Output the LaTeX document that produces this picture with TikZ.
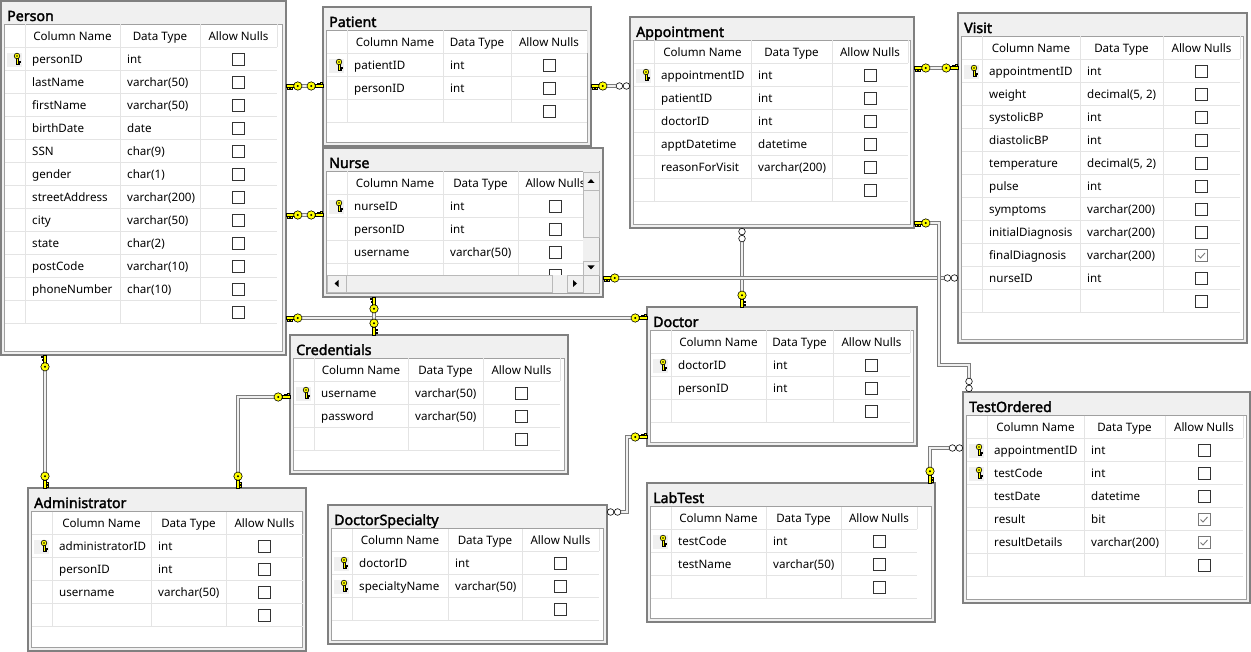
\documentclass[tikz,border=0pt]{standalone}
\usepackage{fontspec}
\setmainfont{Noto Sans}
\newfontfamily\titlefont{Noto Sans}[FakeBold=2.2]

\definecolor{keyyellow}{RGB}{255,255,0}
\definecolor{framegray}{RGB}{128,128,128}
\definecolor{titlegray}{RGB}{240,240,240}
\definecolor{gridedge}{RGB}{160,160,160}
\definecolor{gridline}{RGB}{228,228,228}
\definecolor{boxedge}{RGB}{51,51,51}
\definecolor{checkgray}{RGB}{120,120,120}
\definecolor{linkgray}{RGB}{125,125,125}

\tikzset{
  tblframe/.style={draw=framegray, fill=titlegray, line width=1.2pt, inner sep=0pt, outer sep=0pt},
  tbltitle/.style={anchor=base west, inner sep=0pt, font=\titlefont\fontsize{14.2}{16}\selectfont},
  cell/.style={inner sep=0pt, font=\fontsize{11.6}{13}\selectfont, text height=10.6pt, text depth=1pt},
  rowline/.style={draw=gridline, line width=0.8pt},
  keyfill/.style={draw=black, fill=keyyellow, line width=0.6pt},
  scrollbtn/.style={draw=gray!55, fill=titlegray, line width=0.8pt},
  link/.style={draw=linkgray, line width=1pt, double=titlegray, double distance=1.8pt},
  pics/pkicon/.style={code={
    \draw[keyfill] (-1,2) rectangle (1,8.5);
    \draw[keyfill] (1,5) rectangle (2.8,6.3);
    \draw[keyfill] (1,7.2) rectangle (2.5,8.5);
    \draw[keyfill] (0,0) circle (2.8pt);
    \fill (0,0) circle (0.8pt);
  }},
  pics/nullno/.style={code={
    \draw[boxedge, fill=white, line width=0.9pt] (-6,-6) rectangle (6,6);
  }},
  pics/nullyes/.style={code={
    \draw[checkgray, fill=white, line width=0.9pt] (-6,-6) rectangle (6,6);
    \draw[checkgray, line width=0.9pt] (-3.5,0) -- (-1,2.5) -- (3.5,-2.5);
  }},
  pics/onekey/.style={code={
    \draw[keyfill] (0,-1.5) rectangle (8,1.5);
    \draw[keyfill] (1.2,1.5) rectangle (2.8,3.6);
    \draw[keyfill] (4.2,1.5) rectangle (5.8,3);
    \draw[keyfill] (11.8,0) circle (4.2pt);
    \fill (11.8,0) circle (1.1pt);
  }},
  pics/manyend/.style={code={
    \draw[draw=black, fill=white, line width=0.6pt] (3.6,0) circle (3.3pt) (10.6,0) circle (3.3pt);
  }},
}

\def\setcols#1/#2/#3\relax{\def\colB{#1}\def\colC{#2}\def\colR{#3}}

% #1 name, #2 north west corner, #3 width, #4 height, #5 title, #6 c2/c3/right, #7 rows
\newcommand{\dbtable}[7]{%
  \node[tblframe, minimum width=#3, minimum height=#4, anchor=north west] (#1) at (#2) {};
  \setcols#6\relax
  \begin{scope}[shift={(#1.north west)}]
    \node[tbltitle] at (6,20) {#5};
    \draw[draw=gridedge, fill=white, line width=0.8pt] (3.5,23.5) rectangle (#3-3.5,#4-3.5);
    \draw[rowline] (3.5,46) -- (\colR,46);
    \draw[rowline] (24,23.5) -- (24,46) (\colB,23.5) -- (\colB,46)
      (\colC,23.5) -- (\colC,46) (\colR,23.5) -- (\colR,46);
    \node[cell] at ({(24+\colB)/2},34.75) {Column Name};
    \node[cell] at ({(\colB+\colC)/2},34.75) {Data Type};
    \node[cell] at ({(\colC+\colR)/2},34.75) {Allow Nulls};
    \foreach \pk/\colname/\coltype/\nulls [count=\r] in {#7}{
      \pgfmathsetmacro\ytop{46+23*(\r-1)}
      \draw[rowline] (3.5,\ytop+23) -- (\colR,\ytop+23)
        (24,\ytop) -- ++(0,23) (\colB,\ytop) -- ++(0,23) (\colC,\ytop) -- ++(0,23);
      \ifnum\pk=1
        \fill[titlegray] (6,\ytop+6) rectangle (21,\ytop+20);
        \pic at (16,\ytop+9) {pkicon};
      \fi
      \node[cell, anchor=west] at (31,\ytop+11.5) {\colname};
      \node[cell, anchor=west] at (\colB+7,\ytop+11.5) {\coltype};
      \ifnum\nulls=1
        \pic at ({(\colC+\colR)/2},\ytop+12.5) {nullyes};
      \else
        \pic at ({(\colC+\colR)/2},\ytop+12.5) {nullno};
      \fi
    }
  \end{scope}
}

\begin{document}
\begin{tikzpicture}[x=1pt, y=-1pt]
  \useasboundingbox (0,0) rectangle (1251,652);
  \fill[white] (0,0) rectangle (1251,652);

  \dbtable{person}{1,1}{285}{354}{Person}{119/199/276}{1/personID/int/0, 0/lastName/varchar(50)/0,
    0/firstName/varchar(50)/0, 0/birthDate/date/0, 0/SSN/char(9)/0, 0/gender/char(1)/0,
    0/streetAddress/varchar(200)/0, 0/city/varchar(50)/0, 0/state/char(2)/0,
    0/postCode/varchar(10)/0, 0/phoneNumber/char(10)/0, 0/{}/{}/0}
  \dbtable{patient}{323,7}{268}{139}{Patient}{120/188/264}{1/patientID/int/0, 0/personID/int/0, 0/{}/{}/0}
  \dbtable{nurse}{323,148}{280}{149}{Nurse}{120/195/270}{1/nurseID/int/0, 0/personID/int/0,
    0/username/varchar(50)/0, 0/{}/{}/0}
  \dbtable{appointment}{630,17}{284}{211}{Appointment}{121/202/278}{1/appointmentID/int/0,
    0/patientID/int/0, 0/doctorID/int/0, 0/apptDatetime/datetime/0,
    0/reasonForVisit/varchar(200)/0, 0/{}/{}/0}
  \dbtable{visit}{958,13}{289}{330}{Visit}{122/205/282}{1/appointmentID/int/0,
    0/weight/{decimal(5, 2)}/0, 0/systolicBP/int/0, 0/diastolicBP/int/0,
    0/temperature/{decimal(5, 2)}/0, 0/pulse/int/0, 0/symptoms/varchar(200)/0,
    0/initialDiagnosis/varchar(200)/0, 0/finalDiagnosis/varchar(200)/1, 0/nurseID/int/0, 0/{}/{}/0}
  \dbtable{doctor}{647,307}{270}{139}{Doctor}{119/186/263}{1/doctorID/int/0, 0/personID/int/0, 0/{}/{}/0}
  \dbtable{credentials}{290,335}{278}{139}{Credentials}{118/193/270}{1/username/varchar(50)/0,
    0/password/varchar(50)/0, 0/{}/{}/0}
  \dbtable{administrator}{28,488}{278}{163}{Administrator}{123/198/275}{1/administratorID/int/0,
    0/personID/int/0, 0/username/varchar(50)/0, 0/{}/{}/0}
  \dbtable{doctorspecialty}{328,505}{279}{139}{DoctorSpecialty}{120/194/271}{1/doctorID/int/0,
    1/specialtyName/varchar(50)/0, 0/{}/{}/0}
  \dbtable{labtest}{647,483}{288}{139}{LabTest}{119/194/270}{1/testCode/int/0,
    0/testName/varchar(50)/0, 0/{}/{}/0}
  \dbtable{testordered}{963,392}{287}{211}{TestOrdered}{121/202/280}{1/appointmentID/int/0,
    1/testCode/int/0, 0/testDate/datetime/0, 0/result/bit/1, 0/resultDetails/varchar(200)/1, 0/{}/{}/0}

  % scroll bars of the nurse table
  \begin{scope}[shift={(nurse.north west)}]
    \fill[titlegray] (260,23.5) rectangle (276,145);
    \fill[titlegray] (3.5,127) rectangle (276,145);
    \draw[scrollbtn] (260,24) rectangle (276,42);
    \draw[scrollbtn] (260,42) rectangle (276,89);
    \draw[scrollbtn] (260,113) rectangle (276,127);
    \draw[scrollbtn] (4,127) rectangle (23,144);
    \draw[scrollbtn] (23,127) rectangle (229,144);
    \draw[scrollbtn] (244,127) rectangle (260,144);
    \fill (264.5,35) -- (271.5,35) -- (268,31) -- cycle;
    \fill (264.5,117.5) -- (271.5,117.5) -- (268,121.5) -- cycle;
    \fill (15.5,132) -- (15.5,139) -- (11.5,135.5) -- cycle;
    \fill (250,132) -- (250,139) -- (254,135.5) -- cycle;
  \end{scope}

  % relationships
  \draw[link, shorten <=16pt, shorten >=16pt] (person.east |- 0,86) coordinate (perpat1)
    -- (patient.west |- 0,86) coordinate (perpat2);
  \draw[link, shorten <=16pt, shorten >=16pt] (person.east |- 0,215) coordinate (pernur1)
    -- (nurse.west |- 0,215) coordinate (pernur2);
  \draw[link, shorten <=16pt, shorten >=14pt] (patient.east |- 0,86) coordinate (patapp1)
    -- (appointment.west |- 0,86) coordinate (patapp2);
  \draw[link, shorten <=16pt, shorten >=16pt] (appointment.east |- 0,68) coordinate (appvis1)
    -- (visit.west |- 0,68) coordinate (appvis2);
  \draw[link, shorten <=14pt, shorten >=16pt] (appointment.south -| 742,0) coordinate (appdoc1)
    -- (doctor.north -| 742,0) coordinate (appdoc2);
  \draw[link, shorten <=16pt, shorten >=14pt] (nurse.east |- 0,278) coordinate (nurvis1)
    -- (visit.west |- 0,278) coordinate (nurvis2);
  \draw[link, shorten <=16pt, shorten >=14pt] (appointment.east |- 0,223) coordinate (apptst1)
    -| (939,365) -| (testordered.north -| 969,0) coordinate (apptst2);
  \draw[link, shorten <=16pt, shorten >=16pt] (person.east |- 0,318) coordinate (perdoc1)
    -- (doctor.west |- 0,318) coordinate (perdoc2);
  \draw[link, shorten <=16pt, shorten >=16pt] (nurse.south -| 374,0) coordinate (nurcrd1)
    -- (credentials.north -| 374,0) coordinate (nurcrd2);
  \draw[link, shorten <=16pt, shorten >=16pt] (person.south -| 45,0) coordinate (peradm1)
    -- (administrator.north -| 45,0) coordinate (peradm2);
  \draw[link, shorten <=16pt, shorten >=16pt] (credentials.west |- 0,397) coordinate (crdadm1)
    -| (administrator.north -| 238,0) coordinate (crdadm2);
  \draw[link, shorten <=16pt, shorten >=14pt] (doctor.west |- 0,437) coordinate (docspc1)
    -| (627,512) -- (doctorspecialty.east |- 0,512) coordinate (docspc2);
  \draw[link, shorten <=16pt, shorten >=14pt] (labtest.north -| 930,0) coordinate (labtst1)
    |- (testordered.west |- 0,448) coordinate (labtst2);

  \pic at (perpat1) {onekey};
  \pic[rotate=180] at (perpat2) {onekey};
  \pic at (pernur1) {onekey};
  \pic[rotate=180] at (pernur2) {onekey};
  \pic at (patapp1) {onekey};
  \pic[rotate=180] at (patapp2) {manyend};
  \pic at (appvis1) {onekey};
  \pic[rotate=180] at (appvis2) {onekey};
  \pic[rotate=-90] at (appdoc1) {manyend};
  \pic[rotate=90] at (appdoc2) {onekey};
  \pic at (nurvis1) {onekey};
  \pic[rotate=180] at (nurvis2) {manyend};
  \pic at (apptst1) {onekey};
  \pic[rotate=90] at (apptst2) {manyend};
  \pic at (perdoc1) {onekey};
  \pic[rotate=180] at (perdoc2) {onekey};
  \pic[rotate=-90] at (nurcrd1) {onekey};
  \pic[rotate=90] at (nurcrd2) {onekey};
  \pic[rotate=-90] at (peradm1) {onekey};
  \pic[rotate=90] at (peradm2) {onekey};
  \pic[rotate=180] at (crdadm1) {onekey};
  \pic[rotate=90] at (crdadm2) {onekey};
  \pic[rotate=180] at (docspc1) {onekey};
  \pic at (docspc2) {manyend};
  \pic[rotate=90] at (labtst1) {onekey};
  \pic[rotate=180] at (labtst2) {manyend};
\end{tikzpicture}
\end{document}
